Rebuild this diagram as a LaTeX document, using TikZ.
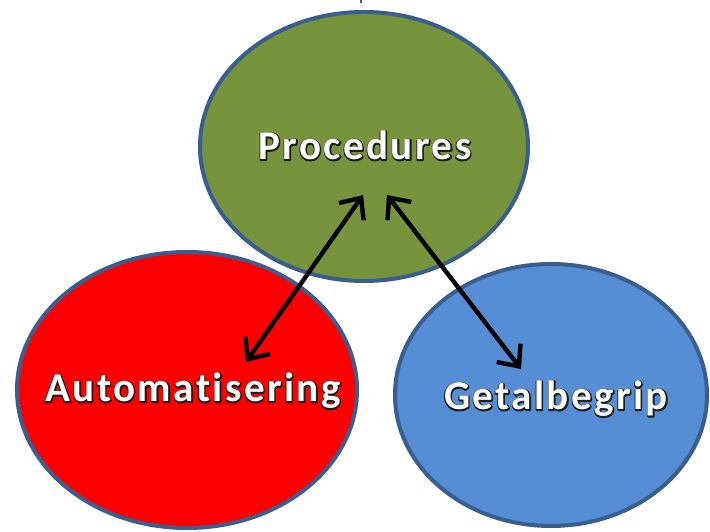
\documentclass[tikz,border=0pt]{standalone}
\usepackage{fontspec}
\setmainfont{Carlito}
\newfontfamily\labfont[LetterSpace=6,Ligatures=NoCommon]{Carlito}
\usetikzlibrary{shapes.geometric,arrows.meta}
\definecolor{bordc}{HTML}{3A5F8E}
\definecolor{greenc}{HTML}{77933C}
\definecolor{redc}{HTML}{FF0000}
\definecolor{bluec}{HTML}{558ED5}
\tikzset{
  blob/.style={ellipse, draw=bordc, line width=4pt, inner sep=0pt},
  lab/.style={anchor=base, inner sep=0pt, font=\labfont\fontsize{41}{41}\selectfont\bfseries},
  link/.style={line width=4.4pt, line cap=round, line join=round,
    {Straight Barb[length=17pt,width=30pt,line width=4.4pt]}-{Straight Barb[length=17pt,width=30pt,line width=4.4pt]}},
}
\newcommand{\wtxt}[1]{\rlap{\special{pdf:literal direct 1 Tr 2.4 w 1 j 0.12 0.12 0.12 RG}#1\special{pdf:literal direct 0 Tr}}\textcolor{white}{#1}}
\begin{document}
\begin{tikzpicture}[x=1pt,y=1pt]
\useasboundingbox (0,0) rectangle (710,532);
\fill[white] (0,0) rectangle (710,532);
\node[blob, fill=greenc, minimum width=328pt, minimum height=269pt] (proc) at (364,385.5) {};
\node[blob, fill=redc, minimum width=340pt, minimum height=276pt] (auto) at (187,142) {};
\node[blob, fill=bluec, minimum width=312pt, minimum height=262pt] (getal) at (551,137) {};
\draw[bordc, line width=1.5pt] (361,532) -- (361,529);
\node[lab] (proclab) at (365,372) {\wtxt{Procedures}};
\node[lab] (autolab) at (193,130) {\wtxt{Automatisering}};
\node[lab] (getallab) at (556,122) {\wtxt{Getalbegrip}};
\coordinate (a1) at (363,337);
\coordinate (a2) at (246,170);
\coordinate (b1) at (387,337);
\coordinate (b2) at (521,163);
\draw[link] (a2) -- (a1);
\draw[link] (b1) -- (b2);
\end{tikzpicture}
\end{document}
